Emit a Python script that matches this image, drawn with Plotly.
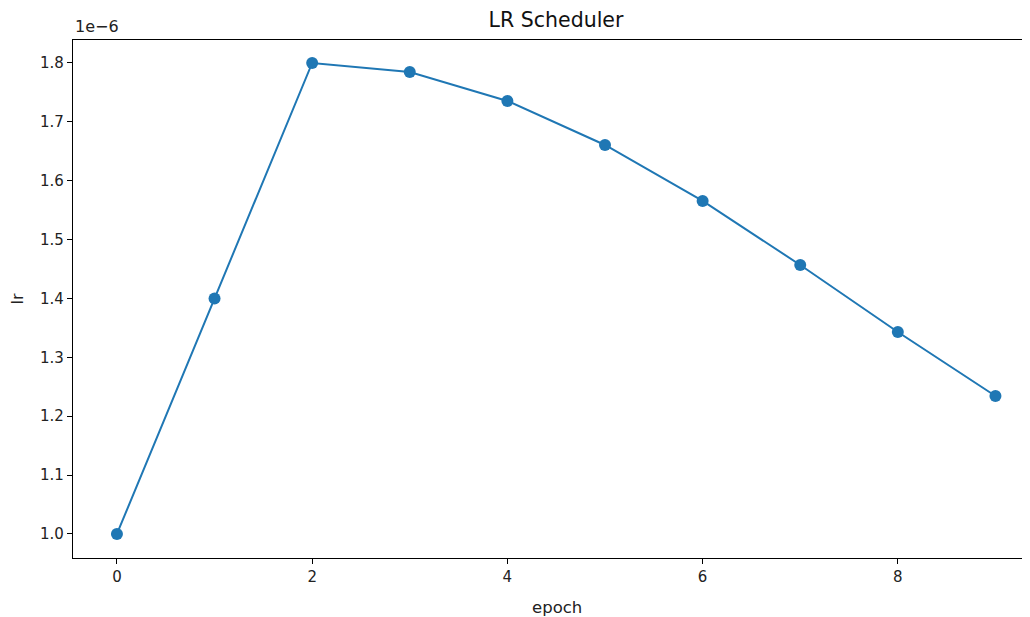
import plotly.graph_objects as go

epochs = [0, 1, 2, 3, 4, 5, 6, 7, 8, 9]
lr = [1.0e-6, 1.4e-6, 1.8e-6, 1.7847e-6, 1.7355e-6, 1.6607e-6, 1.5656e-6, 1.4569e-6, 1.3431e-6, 1.2344e-6]
y_ticks = [1.0, 1.1, 1.2, 1.3, 1.4, 1.5, 1.6, 1.7, 1.8]
x_ticks = [0, 2, 4, 6, 8]
scale = 1e-6

y_scaled = [v / scale for v in lr]
font = "DejaVu Sans, sans-serif"

fig = go.Figure()
fig.add_trace(go.Scatter(
    x=epochs, y=y_scaled, mode="lines+markers",
    line=dict(color="#1f77b4", width=2),
    marker=dict(color="#1f77b4", size=12),
    showlegend=False,
))

fig.update_layout(
    width=1022, height=609,
    margin=dict(l=65, r=0, t=32, b=59),
    plot_bgcolor="white", paper_bgcolor="white",
    font=dict(family=font, size=15, color="#222"),
    title=dict(text="LR Scheduler", x=548 / 1022, xanchor="center", xref="container",
               y=1 - 12 / 609, yanchor="middle", font=dict(size=20.5, color="#111")),
    xaxis=dict(
        range=[-0.45, (1030 - 118) / 97.5], tickvals=x_ticks,
        ticktext=[str(t) for t in x_ticks],
        showgrid=False, zeroline=False, showline=True, linecolor="black",
        linewidth=1.2, mirror=True, ticks="outside", ticklen=5, tickcolor="black",
    ),
    yaxis=dict(
        range=[0.9592, 1.839], tickvals=y_ticks,
        ticktext=[f"{t:.1f}" for t in y_ticks],
        showgrid=False, zeroline=False, showline=True, linecolor="black",
        linewidth=1.2, mirror=False, ticks="outside", ticklen=5, tickcolor="black",
        title=dict(text="lr", font=dict(size=16), standoff=12),
    ),
)
fig.add_annotation(text="epoch", xref="paper", yref="paper", x=(549 - 65) / 957, y=0,
                   xanchor="center", yanchor="middle", yshift=-49, showarrow=False,
                   font=dict(size=16.5, color="#222"))
fig.add_annotation(text="1e\u22126", xref="paper", yref="paper", x=0, y=1,
                   xanchor="left", yanchor="bottom", yshift=2, showarrow=False,
                   font=dict(size=16, color="#222"))

fig.write_html("out.html")
